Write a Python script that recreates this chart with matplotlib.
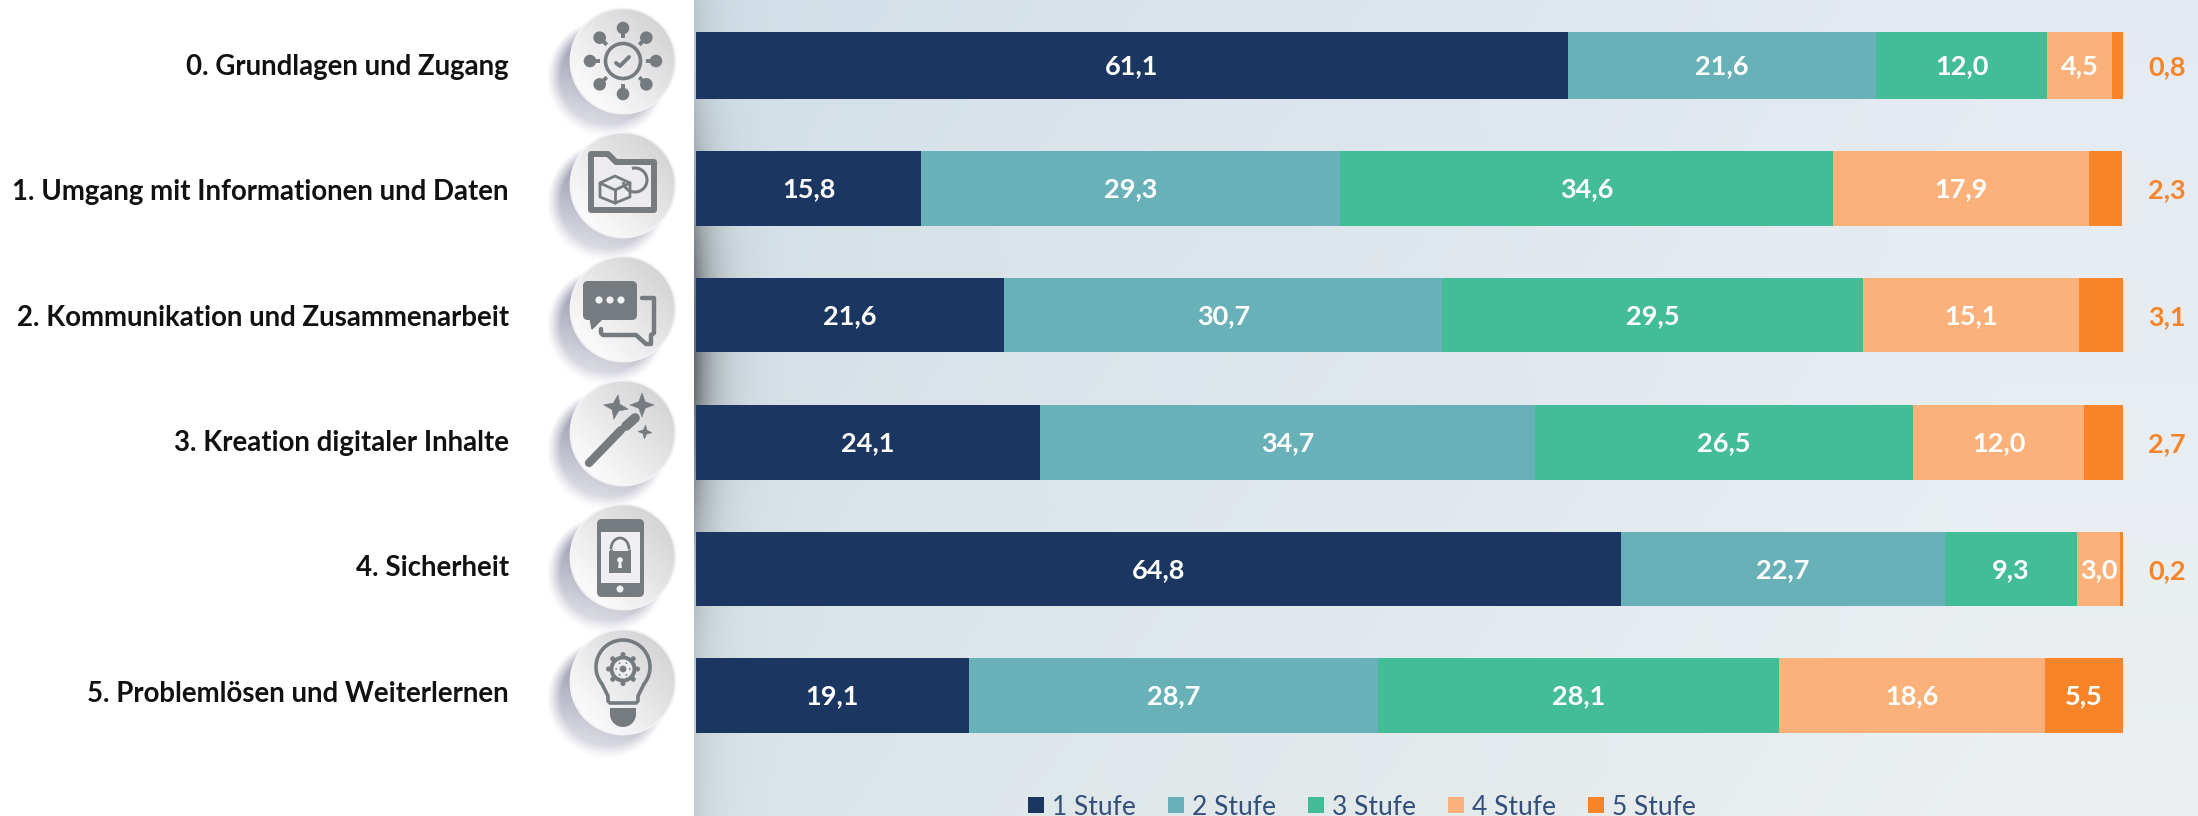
import numpy as np
import matplotlib
matplotlib.use("Agg")
import matplotlib.pyplot as plt
from matplotlib.patches import Circle, Rectangle, FancyBboxPatch, Polygon, Wedge, Arc

categories = ["0. Grundlagen und Zugang", "1. Umgang mit Informationen und Daten",
              "2. Kommunikation und Zusammenarbeit", "3. Kreation digitaler Inhalte",
              "4. Sicherheit", "5. Problemlösen und Weiterlernen"]
stufen = ["1 Stufe", "2 Stufe", "3 Stufe", "4 Stufe", "5 Stufe"]
stufe1 = [61.1, 15.8, 21.6, 24.1, 64.8, 19.1]
stufe2 = [21.6, 29.3, 30.7, 34.7, 22.7, 28.7]
stufe3 = [12.0, 34.6, 29.5, 26.5, 9.3, 28.1]
stufe4 = [4.5, 17.9, 15.1, 12.0, 3.0, 18.6]
stufe5 = [0.8, 2.3, 3.1, 2.7, 0.2, 5.5]
colors = ["#1b3660", "#68b1b9", "#43bc98", "#fbb179", "#f78428"]

# pixel layout of the rows
bar_top = [32, 151, 278, 405, 532, 658]
bar_bottom = [99, 226, 352, 480, 606, 733]
icon_y = [61, 185, 309, 433, 557, 682]
label_y = [67, 192, 318, 443, 568, 694]
icon_x = 623
W, H = 2198, 816

plt.rcParams["font.family"] = ["Lato", "DejaVu Sans"]
fig = plt.figure(figsize=(W / 100, H / 100), dpi=100)
bg = fig.add_axes([0, 0, 1, 1])
bg.set_xlim(0, W)
bg.set_ylim(H, 0)
bg.axis("off")

# paper background with a fold shadow on its left edge
yy, xx = np.mgrid[0:H:2, 694:W:2]
right = np.clip((xx - 700) / 1300, 0, 1)
low = np.clip(yy / 816, 0, 1)
base = np.dstack([0.825 + 0.07 * right + 0.03 * low,
                  0.875 + 0.045 * right + 0.02 * low,
                  0.91 + 0.04 * right - 0.005 * low])
band = np.exp(-((yy - 350) / 180.0) ** 2)
fold = (np.exp(-(xx - 694) / 20.0) * (0.1 + 0.42 * band))[..., None]
base = np.clip(base * (1 - fold), 0, 1)
bg.imshow(base, extent=[694, W, H, 0], aspect="auto", zorder=0, interpolation="bilinear")


def button(cy):
    # soft shadow down-left, fading away from the disc
    gy, gx = np.mgrid[-60:90:1.0, -90:60:1.0]
    d = np.hypot(gx + 17, gy - 17)
    edge = np.clip((60 - d) / 14, 0, 1)
    fade = np.clip(1 - (gy + 10 - 0.3 * gx) / 125, 0, 1)
    rgba = np.zeros(gx.shape + (4,))
    rgba[..., :3] = [0.55, 0.56, 0.65]
    rgba[..., 3] = 0.9 * edge ** 1.2 * fade
    bg.imshow(rgba, extent=[icon_x - 90, icon_x + 60, cy + 90, cy - 60], zorder=2, aspect="auto")
    # disc, light in the lower left and grey in the upper right
    dy, dx = np.mgrid[-1:1:128j, -1:1:128j]
    v = 0.91 + 0.075 * (dy - dx) / 1.4
    v = np.clip(v, 0, 0.995)
    im = bg.imshow(np.dstack([v, v, v + 0.006]).clip(0, 1),
                   extent=[icon_x - 53, icon_x + 53, cy + 53, cy - 53], zorder=3, aspect="auto")
    im.set_clip_path(Circle((icon_x, cy), 53, transform=bg.transData))
    bg.add_patch(Circle((icon_x, cy), 52.5, fill=False, ec="#f3f3f5", lw=1.3, zorder=4))


ink = "#767b80"
paper = "#f1f1f3"


def add(p):
    p.set_zorder(5)
    bg.add_patch(p)


def line(xs, ys, cy, lw, cap="round"):
    bg.plot([icon_x + a for a in xs], [cy + b for b in ys], color=ink, lw=lw, zorder=5,
            solid_capstyle=cap, solid_joinstyle="round")


def icon_network(cy):
    add(Circle((icon_x, cy), 17.5, fill=False, ec=ink, lw=2.6))
    line([-7, -3, 6], [2, 5, -4], cy, 2.8)
    for a in range(0, 360, 45):
        c, s = np.cos(np.radians(a)), np.sin(np.radians(a))
        line([23 * c, 31 * c], [23 * s, 31 * s], cy, 2.8, "butt")
        add(Circle((icon_x + 33 * c, cy + 33 * s), 6.3, color=ink, lw=0))


def icon_folder(cy):
    pts = [(-32, -31), (-15, -31), (-7, -23), (31, -23), (31, 25), (-32, 25)]
    add(Polygon([(icon_x + a, cy + b) for a, b in pts], closed=True, fc="#ececef", ec=ink, lw=4.3,
                joinstyle="round"))
    line([-23, -8, 7, 7, -8, -23, -23, -8, 7], [-2, -9, -2, 12, 18, 12, -2, 5, -2], cy, 2)
    line([-8, -8], [5, 18], cy, 2)
    add(Arc((icon_x + 12, cy - 5), 24, 24, theta1=-105, theta2=170, ec=ink, lw=2.2))


def icon_chat(cy):
    add(FancyBboxPatch((icon_x - 40, cy - 28), 54, 39, boxstyle="round,pad=0,rounding_size=5", fc=ink, lw=0))
    add(Polygon([(icon_x - 33, cy + 9), (icon_x - 31, cy + 20), (icon_x - 20, cy + 9)], fc=ink, ec=ink, lw=1))
    for dx in (-24, -13, -2):
        add(Circle((icon_x + dx, cy - 9), 3.6, color=paper, lw=0))
    line([19, 31, 31, 28, 28, 23, 13, -20, -22, -22], [-11, -11, 24, 26, 35, 35, 26, 26, 24, 20], cy, 3.2)


def star(cy, dx, dy, r, rot):
    pts = []
    for k in range(8):
        a = np.radians(rot + 45 * k)
        rr = r if k % 2 == 0 else r * 0.38
        pts.append((icon_x + dx + rr * np.cos(a), cy + dy + rr * np.sin(a)))
    add(Polygon(pts, fc=ink, ec=ink, lw=0.4))


def icon_wand(cy):
    line([-34, -2], [30, -3], cy, 6)
    line([3, 12], [-7, -15], cy, 7)
    star(cy, -7, -26, 12.5, 10)
    star(cy, 19, -28, 12, 0)
    star(cy, 22, -1, 7, 5)


def icon_phone(cy):
    add(FancyBboxPatch((icon_x - 26, cy - 38), 47, 78, boxstyle="round,pad=0,rounding_size=5", fc=ink, lw=0))
    add(Rectangle((icon_x - 22, cy - 25), 39, 51, fc="#efeff1", lw=0))
    add(Circle((icon_x - 3, cy + 32), 3.5, color=paper, lw=0))
    add(Rectangle((icon_x - 14, cy - 6), 22, 22, fc=ink, lw=0))
    add(Arc((icon_x - 3, cy - 8), 18, 22, theta1=180, theta2=360, ec=ink, lw=2))
    line([-11.7, -11.7], [-8, -5], cy, 2, "butt")
    line([5.7, 5.7], [-8, -5], cy, 2, "butt")
    add(Circle((icon_x - 3, cy + 3), 2.8, color=paper, lw=0))
    add(Polygon([(icon_x - 4, cy + 4), (icon_x - 2, cy + 4), (icon_x - 1, cy + 11), (icon_x - 5, cy + 11)],
                fc=paper, lw=0))


def icon_bulb(cy):
    add(Arc((icon_x, cy - 15), 54, 54, theta1=140, theta2=40, ec=ink, lw=2.6))
    line([-21, -15, -15, -13, 13, 15, 15, 21], [2, 14, 19, 21, 21, 19, 14, 2], cy, 2.6)
    add(Rectangle((icon_x - 13, cy + 26), 26, 7, fc=ink, lw=0))
    add(Wedge((icon_x, cy + 32), 13, 0, 180, fc=ink, lw=0))
    for a in range(0, 360, 45):
        c, s = np.cos(np.radians(a)), np.sin(np.radians(a))
        add(Circle((icon_x + 14.5 * c, cy - 13 + 14.5 * s), 2.5, color=ink, lw=0))
    add(Circle((icon_x, cy - 13), 13.5, color=ink, lw=0))
    add(Circle((icon_x, cy - 13), 9.5, color="#ececef", lw=0))
    add(Circle((icon_x, cy - 13), 3.4, color=ink, lw=0))
    for a in range(0, 360, 60):
        c, s = np.cos(np.radians(a)), np.sin(np.radians(a))
        add(Circle((icon_x + 6.8 * c, cy - 13 + 6.8 * s), 0.9, color=ink, lw=0))


drawers = [icon_network, icon_folder, icon_chat, icon_wand, icon_phone, icon_bulb]
for cy, draw in zip(icon_y, drawers):
    button(cy)
    draw(cy)
bg.set_xlim(0, W)
bg.set_ylim(H, 0)

for name, y in zip(categories, label_y):
    bg.text(509, y, name, ha="right", va="center", fontsize=19.9, fontweight="bold", color="#111111", zorder=6)

# bars, x axis in percent
left_px, right_px = 696, 2123
ax = fig.add_axes([left_px / W, 0, (right_px - left_px) / W, 1])
ax.patch.set_alpha(0)
ax.axis("off")
ax.set_xlim(0, 100)
ax.set_ylim(H, 0)

series = np.array([stufe1, stufe2, stufe3, stufe4, stufe5])
centers = [(t + b) / 2 for t, b in zip(bar_top, bar_bottom)]
heights = [b - t for t, b in zip(bar_top, bar_bottom)]
left = np.zeros(len(categories))
for j, vals in enumerate(series):
    ax.barh(centers, vals, left=left, height=heights, color=colors[j], lw=0)
    for i, v in enumerate(vals):
        label = f"{v:.1f}".replace(".", ",")
        if j == 4 and v < 5:
            ax.text(101.75, centers[i] + 2, label, ha="left", va="center", fontsize=19.5,
                    fontweight="bold", color=colors[4])
        else:
            ax.text(left[i] + v / 2, centers[i] + 1, label, ha="center", va="center",
                    fontsize=19.5, fontweight="bold", color="white")
    left = left + vals

# legend, clipped by the bottom edge as in the source
leg_x = [1028, 1168, 1308, 1448, 1588]
for name, c, x in zip(stufen, colors, leg_x):
    bg.add_patch(Rectangle((x, 797), 16, 16, fc=c, lw=0, zorder=6))
    bg.text(x + 24, 815, name, ha="left", va="baseline", fontsize=19, fontweight="normal", color="#34507a", zorder=6)

fig.savefig("out.png", dpi=100)
